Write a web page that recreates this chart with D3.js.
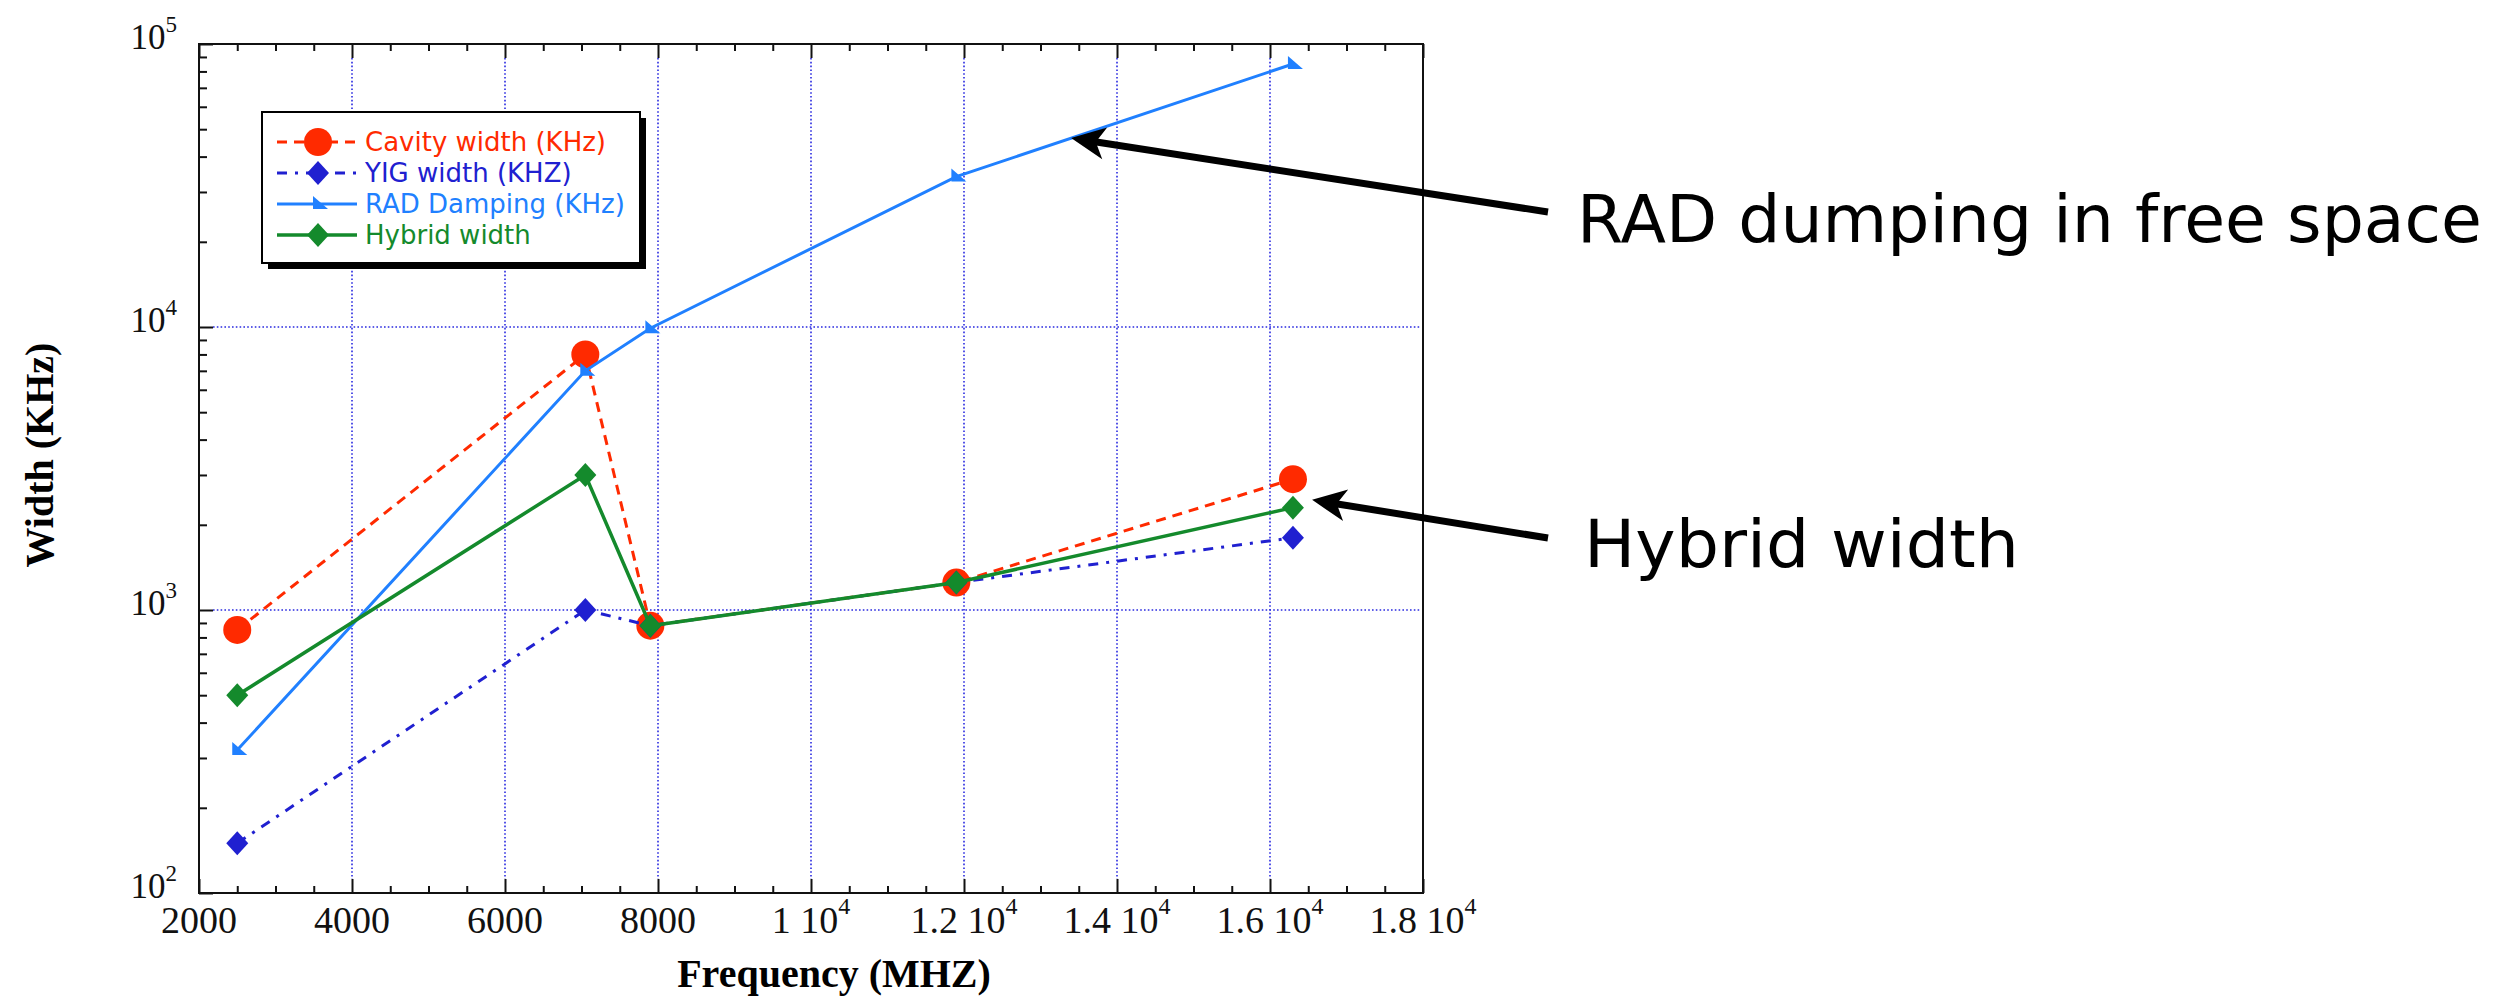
<!DOCTYPE html>
<html lang="en">
<head>
<meta charset="UTF-8">
<script src="https://d3js.org/d3.v7.min.js"></script>
<title>Width vs Frequency</title>
<style>
  body { margin: 0; background: #fff; }
  svg { display: block; }
</style>
</head>
<body>
<svg id="svg1" width="2511" height="996"></svg>
<script>
// measurement frequencies (MHz)
const freqs = [2500, 7050, 7900, 11900, 16300];

// widths (KHz)
const cavityWidth = [850, 8000, 880, 1250, 2900];
const yigWidth    = [150, 1000, 880, 1250, 1800];
const radDamping  = [320, 7000, 9900, 34000, 85000];
const hybridWidth = [500, 3000, 880, 1250, 2300];

const seriesNames = ["Cavity width (KHz)", "YIG width (KHZ)", "RAD Damping (KHz)", "Hybrid width"];

// tick labels, "^" marks the exponent
const xTickValues = [2000, 4000, 6000, 8000, 10000, 12000, 14000, 16000, 18000];
const xTickLabels = ["2000", "4000", "6000", "8000", "1 10^4", "1.2 10^4", "1.4 10^4", "1.6 10^4", "1.8 10^4"];
const yTickValues = [100, 1000, 10000, 100000];
const yTickLabels = ["10^2", "10^3", "10^4", "10^5"];

// callouts: text and the data point the arrow points at
const noteTexts = ["RAD dumping in free space", "Hybrid width"];
const noteTargets = [[13400, 46500], [16550, 2450]];

const svg1 = d3.select("#svg1");
const serif = "'Liberation Serif', 'Times New Roman', serif";
const sans = "'DejaVu Sans', 'Lucida Grande', sans-serif";

const plotLeft = 199, plotRight = 1423, plotTop = 44, plotBottom = 893;
const x = d3.scaleLinear().domain([2000, 18000]).range([plotLeft, plotRight]);
const y = d3.scaleLog().domain([100, 100000]).range([plotBottom, plotTop]);

svg1.append("rect").attr("width", 2511).attr("height", 996).attr("fill", "#fff");

// grid
const grid = svg1.append("g").attr("stroke", "#2a2ae0").attr("stroke-width", 1.6)
    .attr("stroke-dasharray", "1.6,2.2");
xTickValues.slice(1, -1).forEach(v => {
    grid.append("line").attr("x1", x(v)).attr("x2", x(v))
        .attr("y1", plotTop + 14).attr("y2", plotBottom - 14);
});
yTickValues.slice(1, -1).forEach(v => {
    grid.append("line").attr("y1", y(v)).attr("y2", y(v))
        .attr("x1", plotLeft + 14).attr("x2", plotRight - 3);
});

// ticks (pointing inward)
const minorX = d3.range(2000, 18001, 500).filter(v => v % 2000 !== 0);
const minorY = y.ticks().filter(v => !yTickValues.includes(v));

function tickGroup(axis, tx, ty) {
    const g = svg1.append("g").attr("transform", `translate(${tx},${ty})`).call(axis);
    g.select(".domain").remove();
    g.selectAll("line").attr("stroke", "#111").attr("stroke-width", 2);
    g.selectAll("text").remove();
    return g;
}
tickGroup(d3.axisBottom(x).tickValues(minorX).tickSize(-7), 0, plotBottom);
tickGroup(d3.axisBottom(x).tickValues(xTickValues).tickSize(-14), 0, plotBottom);
tickGroup(d3.axisTop(x).tickValues(minorX).tickSize(-7), 0, plotTop);
tickGroup(d3.axisTop(x).tickValues(xTickValues).tickSize(-14), 0, plotTop);
tickGroup(d3.axisLeft(y).tickValues(minorY).tickSize(-8), plotLeft, 0);
tickGroup(d3.axisLeft(y).tickValues(yTickValues).tickSize(-14), plotLeft, 0);

// frame
svg1.append("rect").attr("x", plotLeft).attr("y", plotTop)
    .attr("width", plotRight - plotLeft).attr("height", plotBottom - plotTop)
    .attr("fill", "none").attr("stroke", "#111").attr("stroke-width", 2);

// tick labels
function powerLabel(sel, label, supSize, supRise) {
    const parts = label.split("^");
    sel.append("tspan").text(parts[0]);
    if (parts.length > 1) {
        sel.append("tspan").attr("font-size", supSize).attr("dy", -supRise).text(parts[1]);
    }
}
xTickValues.forEach((v, i) => {
    const t = svg1.append("text").attr("x", x(v)).attr("y", 933)
        .attr("text-anchor", "middle").attr("font-family", serif).attr("font-size", 38)
        .attr("fill", "#111");
    powerLabel(t, xTickLabels[i], 24, 19);
});
yTickValues.forEach((v, i) => {
    const t = svg1.append("text").attr("x", 177).attr("y", y(v) + 5)
        .attr("text-anchor", "end").attr("font-family", serif).attr("font-size", 35)
        .attr("fill", "#111");
    powerLabel(t, yTickLabels[i], 23, 17);
});

// axis titles
svg1.append("text").attr("x", 834).attr("y", 987).attr("text-anchor", "middle")
    .attr("font-family", serif).attr("font-weight", "bold").attr("font-size", 40)
    .text("Frequency (MHZ)");
svg1.append("text").attr("transform", "translate(53,455) rotate(-90)")
    .attr("text-anchor", "middle").attr("font-family", serif).attr("font-weight", "bold")
    .attr("font-size", 40).text("Width (KHz)");

// series
const styles = [
    {color: "#ff2a00", dash: "10,7", width: 3, shape: "circle"},
    {color: "#2020d0", dash: "10,8,3,8", width: 3, shape: "diamond"},
    {color: "#2080ff", dash: null, width: 3, shape: "triangle"},
    {color: "#148a2c", dash: null, width: 3.5, shape: "diamond"}
];
const allValues = [cavityWidth, yigWidth, radDamping, hybridWidth];

function marker(g, shape, cx, cy, color) {
    if (shape === "circle") {
        g.append("circle").attr("cx", cx).attr("cy", cy).attr("r", 14).attr("fill", color);
    } else if (shape === "diamond") {
        g.append("path").attr("transform", `translate(${cx},${cy})`)
            .attr("d", "M0,-12L11,0L0,12L-11,0Z").attr("fill", color);
    } else {
        g.append("path").attr("transform", `translate(${cx},${cy})`)
            .attr("d", "M-5,-8L10,5L-5,5Z").attr("fill", color);
    }
}

const line = d3.line().x(d => x(d[0])).y(d => y(d[1]));
const plot = svg1.append("g");
allValues.forEach((vals, s) => {
    const st = styles[s];
    const pts = freqs.map((f, i) => [f, vals[i]]);
    plot.append("path").datum(pts).attr("d", line).attr("fill", "none")
        .attr("stroke", st.color).attr("stroke-width", st.width)
        .attr("stroke-dasharray", st.dash);
    pts.forEach(p => marker(plot, st.shape, x(p[0]), y(p[1]), st.color));
});

// legend
const lg = svg1.append("g");
lg.append("rect").attr("x", 268).attr("y", 118).attr("width", 378).attr("height", 151).attr("fill", "#000");
lg.append("rect").attr("x", 262).attr("y", 112).attr("width", 378).attr("height", 151)
    .attr("fill", "#fff").attr("stroke", "#000").attr("stroke-width", 2);
seriesNames.forEach((name, i) => {
    const st = styles[i];
    const ry = 142 + i * 31;
    lg.append("line").attr("x1", 277).attr("x2", 357).attr("y1", ry).attr("y2", ry)
        .attr("stroke", st.color).attr("stroke-width", st.width)
        .attr("stroke-dasharray", st.dash);
    marker(lg, st.shape, 318, ry, st.color);
    lg.append("text").attr("x", 365).attr("y", ry).attr("dy", "0.36em")
        .attr("font-family", sans).attr("font-size", 26).attr("fill", st.color).text(name);
});

// callouts
const noteTail = [[1548, 212], [1548, 538]];
const noteText = [[1577, 242, 905], [1584, 567, 435]];
noteTexts.forEach((txt, i) => {
    const tip = [x(noteTargets[i][0]), y(noteTargets[i][1])];
    const tail = noteTail[i];
    const dx = tail[0] - tip[0], dy = tail[1] - tip[1];
    const len = Math.hypot(dx, dy);
    const u = [dx / len, dy / len], p = [-u[1], u[0]];
    const at = (a, b) => [tip[0] + u[0] * a + p[0] * b, tip[1] + u[1] * a + p[1] * b];
    const s0 = at(24, 0);
    svg1.append("line").attr("x1", s0[0]).attr("y1", s0[1]).attr("x2", tail[0]).attr("y2", tail[1])
        .attr("stroke", "#000").attr("stroke-width", 7);
    const b1 = at(34, -16), n = at(25, 0), b2 = at(34, 16);
    svg1.append("path").attr("d", `M${tip}L${b1}L${n}L${b2}Z`).attr("fill", "#000");
    svg1.append("text").attr("x", noteText[i][0]).attr("y", noteText[i][1])
        .attr("font-family", "'Comic Sans MS', 'DejaVu Sans', sans-serif").attr("font-size", 66)
        .attr("textLength", noteText[i][2]).attr("lengthAdjust", "spacingAndGlyphs")
        .text(txt);
});
</script>
</body>
</html>
